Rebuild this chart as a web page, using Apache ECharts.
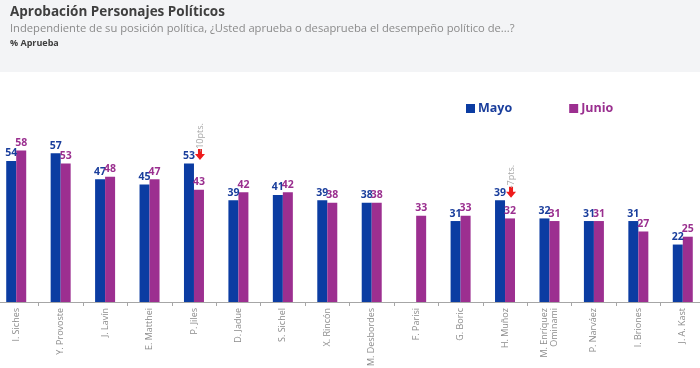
<!DOCTYPE html>
<html>
<head>
<meta charset="utf-8">
<script src="https://cdn.jsdelivr.net/npm/echarts@6/dist/echarts.min.js"></script>
<style>
html,body{margin:0;padding:0;background:#fff;}
#hdr{position:absolute;left:0;top:0;width:700px;height:72px;background:#f3f4f6;}
#chart{position:absolute;left:0;top:0;width:700px;height:368px;}
</style>
</head>
<body>
<div id="hdr"></div>
<div id="chart"></div>
<script>
const categories = ['I. Siches','Y. Provoste','J. Lavín','E. Matthei','P. Jiles','D. Jadue','S. Sichel','X. Rincón','M. Desbordes','F. Parisi','G. Boric','H. Muñoz','M. Enríquez\nOminami','P. Narváez','I. Briones','J. A. Kast'];
const mayo  = [54,57,47,45,53,39,41,39,38,null,31,39,32,31,31,22];
const junio = [58,53,48,47,43,42,42,38,38,33,33,32,31,31,27,25];
const seriesNames = ['Mayo','Junio'];
const notes = [
  {cat: 4, arrowAt: 56.5, textAt: 63, text: '-10pts.'},
  {cat: 11, arrowAt: 42, textAt: 48, text: '-7pts.'}
];

const BLUE = '#0b3ca2', PURPLE = '#9c2f90';
const arrowPath = 'path://M3,0 L7,0 L7,5 L10,5 L5,11 L0,5 L3,5 Z';

const markData = [];
notes.forEach(n => {
  markData.push({coord:[n.cat, n.arrowAt], symbol: arrowPath, symbolSize:[10,11], symbolOffset:[1,0],
    itemStyle:{color:'#ee1c1c'}, label:{show:false}});
  markData.push({coord:[n.cat, n.textAt], symbol:'circle', symbolSize:1, symbolOffset:[1,0],
    itemStyle:{color:'rgba(0,0,0,0)'},
    label:{show:true, position:'inside', formatter:n.text, rotate:90, color:'#a8a8a8', fontSize:9, fontFamily:'Open Sans'}});
});

const chart = echarts.init(document.getElementById('chart'));
chart.setOption({
  animation:false,
  title:[
    {text:'Aprobación Personajes Políticos', left:10, top:5, padding:0,
     textStyle:{fontFamily:'Open Sans', fontSize:13.5, fontWeight:'bold', color:'#3f3f3f'}},
    {text:'Independiente de su posición política, ¿Usted aprueba o desaprueba el desempeño político de...?', left:10, top:23, padding:0,
     textStyle:{fontFamily:'Open Sans', fontSize:11.2, fontWeight:'normal', color:'#8a8a8a'}},
    {text:'% Aprueba', left:10, top:39, padding:0,
     textStyle:{fontFamily:'Open Sans', fontSize:9, fontWeight:'bold', color:'#3f3f3f'}}
  ],
  legend:{
    left:466, top:102, padding:0, itemGap:57, itemWidth:9, itemHeight:9, icon:'rect',
    textStyle:{fontFamily:'Open Sans', fontSize:12.5, fontWeight:'bold', padding:[0,0,0,-2]},
    data:[
      {name:seriesNames[0], textStyle:{color:'#1a3e9c'}},
      {name:seriesNames[1], textStyle:{color:'#9a2f8f'}}
    ]
  },
  grid:{left:-6, right:-5, top:80, bottom:66, containLabel:false, outerBoundsMode:'none'},
  xAxis:{
    type:'category', data:categories,
    axisLine:{lineStyle:{color:'#a6a6a6', width:1}},
    axisTick:{show:true, length:4, lineStyle:{color:'#a6a6a6'}},
    axisLabel:{rotate:90, color:'#8c8c8c', fontSize:9, fontFamily:'Open Sans', margin:6, interval:0, lineHeight:10}
  },
  yAxis:{type:'value', min:0, max:85, show:false, splitLine:{show:false}},
  series:[
    {name:seriesNames[0], type:'bar', data:mayo, barWidth:10, barGap:'0%',
     itemStyle:{color:BLUE},
     label:{show:true, position:'top', distance:2, color:'#1a3e9c', fontSize:10.5, fontWeight:'bold', fontFamily:'Open Sans'}},
    {name:seriesNames[1], type:'bar', data:junio, barWidth:10, barGap:'0%',
     itemStyle:{color:PURPLE},
     label:{show:true, position:'top', distance:2, color:'#9a2f8f', fontSize:10.5, fontWeight:'bold', fontFamily:'Open Sans'},
     markPoint:{data:markData, silent:true}}
  ]
});
</script>
</body>
</html>
